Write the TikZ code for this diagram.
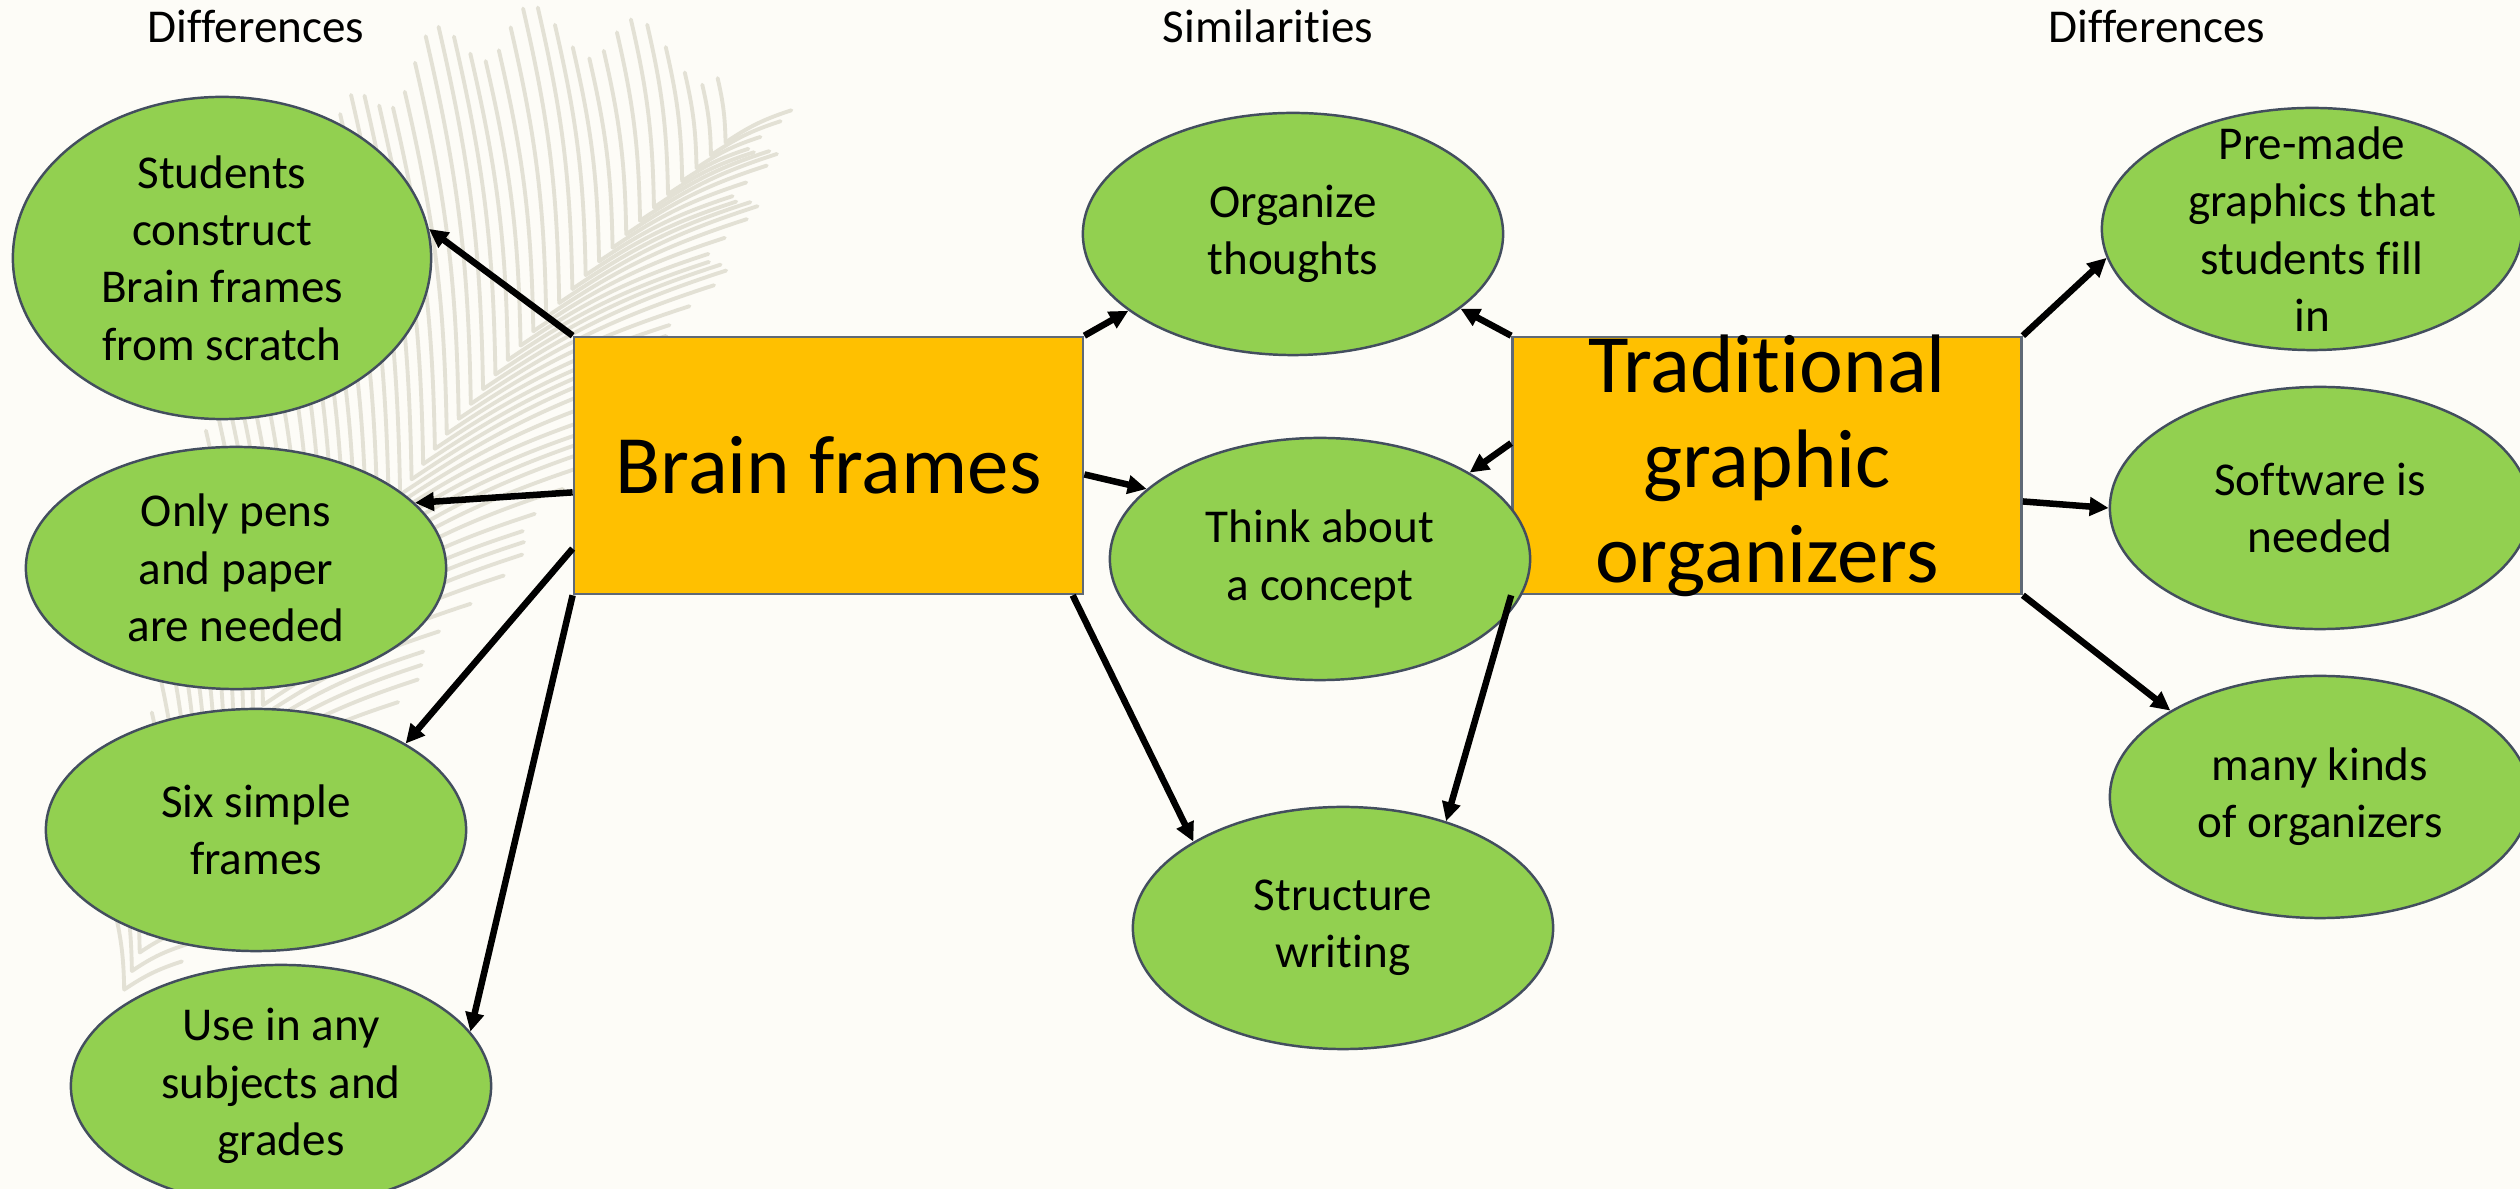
\documentclass[tikz,border=0pt]{standalone}
\usepackage{fontspec}
\setmainfont{Carlito}[Ligatures=NoCommon]
\usetikzlibrary{shapes.geometric,arrows.meta}
\definecolor{leaf}{HTML}{92D050}
\definecolor{gold}{HTML}{FFC000}
\definecolor{rim}{HTML}{434E5E}
\definecolor{paper}{HTML}{FDFCF7}
\definecolor{quill}{HTML}{E3E1D5}
\begin{document}
\begin{tikzpicture}[x=0.01cm,y=-0.01cm]
    \tikzstyle{idea}=[ellipse,draw=rim,line width=0.7pt,fill=leaf,minimum width=4.2cm,minimum height=2.42cm,inner sep=0pt,inner ysep=-0.6cm,align=center,font=\fontsize{13.4}{16.3}\selectfont]
    \tikzstyle{topic}=[rectangle,draw=rim!85,line width=0.7pt,fill=gold,minimum width=5.09cm,minimum height=2.57cm,inner sep=0pt,inner ysep=-0.5cm,align=center,font=\fontsize{23.6}{27}\selectfont]
    \tikzstyle{heading}=[anchor=base,inner sep=0pt,font=\fontsize{13.4}{16.3}\selectfont]
    \tikzstyle{link}=[draw, line width=1.85pt, -{Triangle[length=0.19cm,width=0.18cm]}]
    \tikzstyle{barb}=[draw=quill, line width=1.1pt, line cap=round]
    \path[use as bounding box,fill=paper] (0,0) rectangle (2520,1189);
    \clip (0,0) rectangle (2520,1189);
    \begin{scope}
        \foreach \t in {0.01,0.028,...,1.0}{
            \pgfmathsetmacro\px{(1-\t)^2*120+2*\t*(1-\t)*330+\t^2*740}
            \pgfmathsetmacro\py{(1-\t)^2*1000+2*\t*(1-\t)*480+\t^2*130}
            \pgfmathsetmacro\la{60+320*sin(180*\t)+25*sin(2900*\t)}
            \pgfmathsetmacro\lb{40+240*sin(180*\t)+20*cos(3300*\t)}
            \path[barb] (\px,\py) to[bend right=6] ++({\la*cos(97)},{-\la*sin(97)});
            \path[barb] (\px,\py) to[bend left=8] ++({\lb*cos(26)},{-\lb*sin(26)});
        }
    \end{scope}
    \begin{scope}
        \node [heading] (hleft) at (256,43) {Differences};
        \node [heading] (hmid) at (1268,43) {Similarities};
        \node [heading] (hright) at (2157,43) {Differences};
        \node [topic] (brain) at (828.5,465.5) {Brain frames};
        \node [topic] (trad) at (1767,465.5) {Traditional\\graphic\\organizers};
        \node [idea,minimum width=4.18cm,minimum height=3.22cm] (scratch) at (222,258) {Students\\construct\\Brain frames\\from scratch};
        \node [idea] (pens) at (236,568) {Only pens\\and paper\\are needed};
        \node [idea] (six) at (256,830) {Six simple\\frames};
        \node [idea] (subjects) at (281,1086) {Use in any\\subjects and\\grades};
        \node [idea] (organize) at (1293,234) {Organize\\thoughts};
        \node [idea] (think) at (1320,559) {Think about\\a concept};
        \node [idea] (structure) at (1343,928) {Structure\\writing};
        \node [idea] (premade) at (2312,229) {Pre-made\\graphics that\\students fill\\in};
        \node [idea] (software) at (2320,508) {Software is\\needed};
        \node [idea] (kinds) at (2320,797) {many kinds\\of organizers};
        \draw[link] (brain.north west) -- (scratch.8);
        \draw[link] (brain.186) -- (pens.20);
        \draw[link] (brain.198) -- (six.30);
        \draw[link] (brain.south west) -- (subjects.16);
        \draw[link] (brain.north east) -- (organize.205);
        \draw[link] (brain.-2) -- (think.158);
        \draw[link] (brain.-28) -- (structure.150);
        \draw[link] (trad.north west) -- (organize.-24);
        \draw[link] (trad.175) -- (think.30);
        \draw[link] (trad.south west) -- (structure.46);
        \draw[link] (trad.north east) -- (premade.188);
        \draw[link] (trad.-8) -- (software.west);
        \draw[link] (trad.south east) -- (kinds.150);
    \end{scope}
\end{tikzpicture}
\end{document}
